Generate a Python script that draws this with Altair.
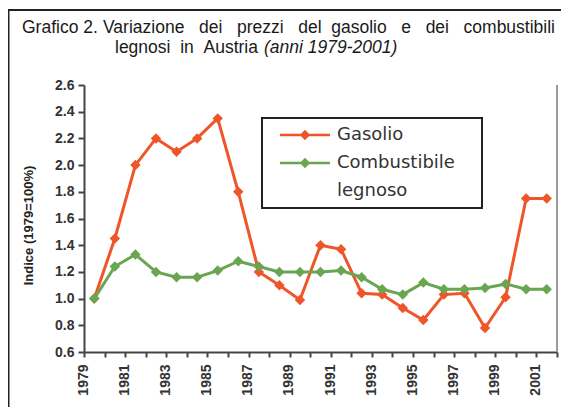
import altair as alt
import pandas as pd

# ---- data ----
anni = list(range(1979, 2002))
gasolio = [1.00, 1.45, 2.00, 2.20, 2.10, 2.20, 2.35, 1.80, 1.20, 1.10, 0.99, 1.40,
           1.37, 1.04, 1.03, 0.93, 0.84, 1.03, 1.04, 0.78, 1.01, 1.75, 1.75]
legno = [1.00, 1.24, 1.33, 1.20, 1.16, 1.16, 1.21, 1.28, 1.24, 1.20, 1.20, 1.20,
         1.21, 1.16, 1.07, 1.03, 1.12, 1.07, 1.07, 1.08, 1.11, 1.07, 1.07]
serie = ["Gasolio", "Combustibile legnoso"]
colori = ["#f0552a", "#6aa551"]
y_ticks = [0.6, 0.8, 1.0, 1.2, 1.4, 1.6, 1.8, 2.0, 2.2, 2.4, 2.6]

titolo_1a = "Grafico 2."
titolo_1b = ["Variazione", "dei", "prezzi", "del"]
titolo_1c = ["gasolio", "e", "dei", "combustibili"]
titolo_2a = ["legnosi", "in", "Austria"]
titolo_2b = "(anni 1979-2001)"
y_title = "Indice (1979=100%)"

df = pd.DataFrame({
    "anno": anni * 2,
    "valore": gasolio + legno,
    "serie": [serie[0]] * len(anni) + [serie[1]] * len(anni),
})

W, H = 473, 267
NB = "\u00a0"

x_enc = alt.X(
    "anno:O",
    scale=alt.Scale(type="band", paddingInner=0, paddingOuter=0),
    axis=alt.Axis(
        title=None, labelAngle=270, tickBand="extent", labelOffset=-11,
        labelExpr="datum.value % 2 == 1 ? datum.label : ''",
        tickSize=5, tickWidth=2, tickColor="#444", domainColor="#444", domainWidth=2,
        labelFont="Liberation Sans", labelFontSize=14, labelFontWeight="bold",
        labelColor="#333", labelPadding=7,
    ),
)
y_enc = alt.Y(
    "valore:Q",
    scale=alt.Scale(domain=[0.6, 2.6], nice=False, zero=False),
    axis=alt.Axis(
        values=y_ticks, format=".1f", grid=False,
        tickSize=6, tickWidth=2, tickColor="#444", domainColor="#444", domainWidth=2,
        labelFont="Liberation Sans", labelFontSize=14, labelFontWeight="bold",
        labelColor="#333", labelPadding=4,
        title=y_title, titleFont="Liberation Sans", titleFontSize=13,
        titleFontWeight="bold", titleColor="#222", titleAngle=270,
        titleX=-56, titleY=140, titleAlign="center", titleBaseline="middle",
    ),
)

base = alt.Chart(df)
linee = base.mark_line(strokeWidth=3).encode(
    x=x_enc, y=y_enc,
    stroke=alt.Stroke("serie:N", scale=alt.Scale(domain=serie, range=colori), legend=None),
    detail="serie:N",
)

# legend: third (empty) entry carries the second line of the long label
legend_dom = serie + ["legnoso"]
legend_col = colori + ["transparent"]
legend_path = ("M0.125,-0.16H6.375V0.16H0.125Z "
               "M3.25,-0.65L3.9,0L3.25,0.65L2.6,0Z")
punti = base.mark_point(shape="diamond", filled=True, size=110, opacity=1).encode(
    x=x_enc, y=y_enc,
    fill=alt.Fill(
        "serie:N", scale=alt.Scale(domain=legend_dom, range=legend_col),
        legend=alt.Legend(
            # invisible spacer title on the right widens the legend box
            title="MM", titleOrient="right", titleColor="transparent",
            titleFontSize=8, titlePadding=5,
            orient="none", legendX=178, legendY=33,
            symbolType=legend_path, symbolSize=256, symbolStrokeWidth=0,
            labelFont="DejaVu Sans", labelFontSize=18, labelColor="#333",
            labelOffset=49, labelLimit=300, rowPadding=10,
            labelExpr="datum.label == 'Combustibile legnoso' ? 'Combustibile' : datum.label",
            strokeColor="#222", fillColor="white", padding=8,
        ),
    ),
)

bordo_dx = alt.Chart(pd.DataFrame({"k": [0]})).mark_rule(color="#9a9a9a", strokeWidth=2).encode(
    x=alt.value(W), y=alt.value(0), y2=alt.value(H)
)
cornice_sx = alt.Chart(pd.DataFrame({"k": [0]})).mark_rule(color="#222", strokeWidth=2).encode(
    x=alt.value(-75.5), y=alt.value(-75), y2=alt.value(H + 80)
)
cornice_top = alt.Chart(pd.DataFrame({"k": [0]})).mark_rule(color="#222", strokeWidth=2).encode(
    y=alt.value(-75), x=alt.value(-76), x2=alt.value(W + 20)
)

def testo(t, x, y, style="normal", align="left"):
    return alt.Chart(pd.DataFrame({"t": [t]})).mark_text(
        align=align, baseline="alphabetic", font="Liberation Sans", fontSize=17.5,
        fontStyle=style, color="#1a1a1a",
    ).encode(text="t:N", x=alt.value(x), y=alt.value(y))

g2, g3 = NB * 2, NB * 3
riga1b = g3.join(titolo_1b)
riga1c = g3.join(titolo_1c)
riga2a = g2.join(titolo_2a)
titoli = [
    testo(titolo_1a, -62, -52),
    testo(riga1b, 19, -52),
    testo(riga1c, 471, -52, align="right"),
    testo(riga2a, 31, -32),
    testo(titolo_2b, 180, -32, "italic"),
]

chart = alt.layer(bordo_dx, linee, punti, cornice_sx, cornice_top, *titoli).properties(
    width=W, height=H,
    autosize=alt.AutoSizeParams(type="none"),
    padding={"left": 76, "top": 77, "right": 4, "bottom": 55},
).configure_view(stroke=None).configure_legend(strokeWidth=2)

chart.save("out.html", embed_options={"renderer": "svg", "actions": False})
